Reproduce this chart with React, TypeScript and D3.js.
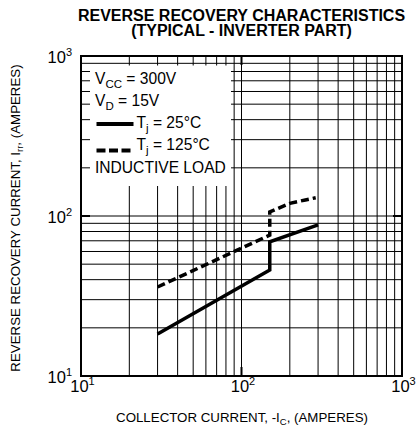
import React from "react";
import * as d3 from "d3";

const W = 417;
const H = 428;

const titleLines = ["REVERSE RECOVERY CHARACTERISTICS", "(TYPICAL - INVERTER PART)"];
const majorTicks = [10, 100, 1000];
const majorExp = ["1", "2", "3"];
const gridValues = [20, 30, 40, 50, 60, 70, 80, 90, 100, 200, 300, 400, 500, 600, 700, 800, 900];

// Tj = 25°C
const solidCurrent = [30, 150, 150, 300];
const solidIrr = [18.3, 46, 69, 88];
// Tj = 125°C
const dashCurrent = [30, 150, 150, 200, 250, 290];
const dashIrr = [36, 76, 106, 120, 126, 130];

const FONT = "'Liberation Sans', Arial, Helvetica, sans-serif";

export default function App() {
  const x = d3.scaleLog().domain([10, 1000]).range([81, 402]);
  const y = d3.scaleLog().domain([10, 1000]).range([376, 56]);
  const line = d3
    .line<[number, number]>()
    .x((d) => x(d[0]))
    .y((d) => y(d[1]));
  const solidPts = solidCurrent.map((c, i) => [c, solidIrr[i]] as [number, number]);
  const dashPts = dashCurrent.map((c, i) => [c, dashIrr[i]] as [number, number]);

  const left = x(10), right = x(1000), top = y(1000), bottom = y(10);
  const box = { x0: 90, x1: 231, y0: 65.5, y1: 186 };

  return (
    <svg
      width={W}
      height={H}
      style={{ position: "absolute", left: 0, top: 0, background: "#fff" }}
      fontFamily={FONT}
    >
      <rect x={0} y={0} width={W} height={H} fill="#fff" />
      {/* title */}
      {titleLines.map((t, i) => (
        <text key={i} x={241.5} y={20.5 + i * 15} textAnchor="middle" fontSize={16} fontWeight="bold" fill="#000">
          {t}
        </text>
      ))}
      {/* grid */}
      <g stroke="#000" strokeWidth={1}>
        {gridValues.map((v) => (
          <line key={"v" + v} x1={x(v)} x2={x(v)} y1={top} y2={bottom} />
        ))}
        {gridValues.map((v) => (
          <line key={"h" + v} x1={left} x2={right} y1={y(v)} y2={y(v)} />
        ))}
      </g>
      {/* legend box masking grid */}
      <rect x={box.x0} y={box.y0} width={box.x1 - box.x0} height={box.y1 - box.y0} fill="#fff" />
      {/* major ticks */}
      <g stroke="#000" strokeWidth={2}>
        {majorTicks.map((v) => (
          <g key={"mt" + v}>
            <line x1={x(v)} x2={x(v)} y1={bottom} y2={bottom - 9} />
            <line x1={x(v)} x2={x(v)} y1={top} y2={top + 9} />
            <line x1={left} x2={left + 9} y1={y(v)} y2={y(v)} />
            <line x1={right} x2={right - 9} y1={y(v)} y2={y(v)} />
          </g>
        ))}
      </g>
      {/* border */}
      <rect x={left} y={top} width={right - left} height={bottom - top} fill="none" stroke="#000" strokeWidth={2} />
      {/* curves */}
      <path d={line(solidPts) || ""} fill="none" stroke="#000" strokeWidth={3.5} strokeLinejoin="miter" />
      <path d={line(dashPts) || ""} fill="none" stroke="#000" strokeWidth={3.5} strokeDasharray="8,4" />
      {/* legend */}
      <g fontSize={15.6} fill="#000">
        <text x={95} y={84}>
          V<tspan fontSize={11.5} dy={4}>CC</tspan>
          <tspan dy={-4}> = 300V</tspan>
        </text>
        <text x={95} y={106}>
          V<tspan fontSize={11.5} dy={4}>D</tspan>
          <tspan dy={-4}> = 15V</tspan>
        </text>
        <line x1={96.5} x2={133.5} y1={124} y2={124} stroke="#000" strokeWidth={4} />
        <text x={136.5} y={128}>
          T<tspan fontSize={11.5} dy={4}>j</tspan>
          <tspan dy={-4}> = 25°C</tspan>
        </text>
        <line x1={96.5} x2={133.5} y1={150.5} y2={150.5} stroke="#000" strokeWidth={4} strokeDasharray="9,3.5" />
        <text x={136.5} y={150}>
          T<tspan fontSize={11.5} dy={4}>j</tspan>
          <tspan dy={-4}> = 125°C</tspan>
        </text>
        <text x={95} y={173}>INDUCTIVE LOAD</text>
      </g>
      {/* y tick labels */}
      {majorTicks.map((v, i) => (
        <text key={"yl" + v} x={72} y={y(v) + 7} textAnchor="end" fontSize={16.5} fill="#000">
          10<tspan fontSize={11} dy={-7}>{majorExp[i]}</tspan>
        </text>
      ))}
      {/* x tick labels */}
      {majorTicks.map((v, i) => (
        <text key={"xl" + v} x={x(v) + 1.5} y={bottom + 16} textAnchor="middle" fontSize={16.5} fill="#000">
          10<tspan fontSize={11} dy={-7}>{majorExp[i]}</tspan>
        </text>
      ))}
      {/* axis titles */}
      <text x={242} y={422} textAnchor="middle" fontSize={13.3} fill="#000">
        COLLECTOR CURRENT, -I<tspan fontSize={9.5} dy={3}>C</tspan>
        <tspan dy={-3}>, (AMPERES)</tspan>
      </text>
      <text transform={`translate(20,218) rotate(-90)`} textAnchor="middle" fontSize={13.3} fill="#000">
        REVERSE RECOVERY CURRENT, I<tspan fontSize={9.5} dy={3}>rr</tspan>
        <tspan dy={-3}>, (AMPERES)</tspan>
      </text>
    </svg>
  );
}
